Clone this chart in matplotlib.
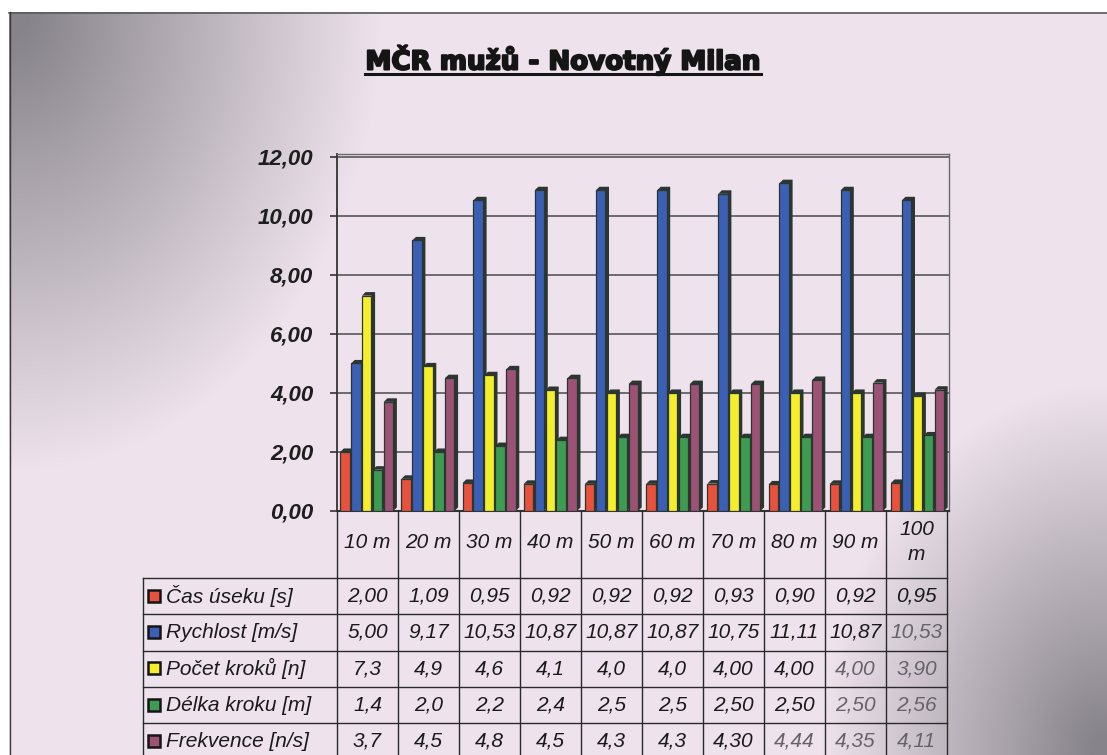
import numpy as np
import matplotlib
matplotlib.use("Agg")
import matplotlib.pyplot as plt
from matplotlib.ticker import FuncFormatter
from matplotlib import patheffects as pe

# ---- data ---------------------------------------------------------------
title = "MČR mužů - Novotný Milan"
categories = ["10 m", "20 m", "30 m", "40 m", "50 m", "60 m", "70 m", "80 m", "90 m", "100\nm"]

series_names = ["Čas úseku [s]", "Rychlost [m/s]", "Počet kroků [n]",
                "Délka kroku [m]", "Frekvence [n/s]"]

cas_useku = ["2,00", "1,09", "0,95", "0,92", "0,92", "0,92", "0,93", "0,90", "0,92", "0,95"]
rychlost = ["5,00", "9,17", "10,53", "10,87", "10,87", "10,87", "10,75", "11,11", "10,87", "10,53"]
pocet_kroku = ["7,3", "4,9", "4,6", "4,1", "4,0", "4,0", "4,00", "4,00", "4,00", "3,90"]
delka_kroku = ["1,4", "2,0", "2,2", "2,4", "2,5", "2,5", "2,50", "2,50", "2,50", "2,56"]
frekvence = ["3,7", "4,5", "4,8", "4,5", "4,3", "4,3", "4,30", "4,44", "4,35", "4,11"]

y_ticks = [0, 2, 4, 6, 8, 10, 12]

rows = [cas_useku, rychlost, pocet_kroku, delka_kroku, frekvence]
values = [[float(s.replace(",", ".")) for s in r] for r in rows]

# ---- style --------------------------------------------------------------
colors = ["#e8513c", "#3b5fb4", "#f4ee2c", "#3d9c52", "#9b5274"]
side_col = "#2b3631"
W, H = 1107, 755
fig = plt.figure(figsize=(W / 100, H / 100), dpi=100)
fig.patch.set_facecolor("white")

# page background: light lilac paper shading to grey in two corners
bg = fig.add_axes([0, 0, 1, 1], zorder=0)
bg.set_xlim(0, W)
bg.set_ylim(H, 0)
bg.axis("off")
gx, gy = np.meshgrid(np.linspace(0, 1, 400), np.linspace(0, 1, 300))
k_tl = np.clip(1 - np.sqrt((gx / 0.34) ** 2 + (gy / 0.62) ** 2), 0, 1)
k_br = np.clip(1 - np.sqrt(((1 - gx) / 0.26) ** 2 + ((1 - gy) / 0.50) ** 2), 0, 1)
k = np.clip(np.maximum(k_tl, k_br) * 1.05, 0, 1)
light = np.array([0.935, 0.890, 0.930])
dark = np.array([0.53, 0.515, 0.545])
img = light[None, None, :] * (1 - k[..., None]) + dark[None, None, :] * k[..., None]
bg.imshow(img, extent=(9, W, H, 12), aspect="auto", interpolation="bilinear")
bg.plot([9, W], [12.5, 12.5], color="#5a5a5a", lw=1.2)
bg.plot([9.5, 9.5], [12, H], color="#3a3a3a", lw=1.0)

# title with underline
t = bg.text(563, 60, title, ha="center", va="center", fontsize=18.8,
            fontweight="bold", family="DejaVu Sans", color="#151515",
            path_effects=[pe.withStroke(linewidth=1.5, foreground="#151515")])
fig.canvas.draw()
bb = t.get_window_extent().transformed(bg.transData.inverted())
bg.plot([bb.x0, bb.x1], [73.5, 73.5], color="#151515", lw=2.2)

# ---- bar chart ----------------------------------------------------------
L, R, T, B = 337, 949, 154, 511
ax = fig.add_axes([L / W, 1 - B / H, (R - L) / W, (B - T) / H], zorder=2)
ax.patch.set_alpha(0)
ax.set_xlim(-0.5, len(categories) - 0.5)
ax.set_ylim(0, 12.1)

pitch, bw = 0.178, 0.155
dx, dy = 0.06, 0.12
xs = np.arange(len(categories))
for j, (vals, c) in enumerate(zip(values, colors)):
    xpos = xs + (j - 2) * pitch - 0.015
    for x, h in zip(xpos, vals):
        xl, xr = x - bw / 2, x + bw / 2
        ax.fill([xr, xr + dx, xr + dx, xl + dx, xl, xr],
                [0, dy, h + dy, h + dy, h, h],
                color=side_col, zorder=3 + j, lw=0)
    ax.bar(xpos, vals, bw, color=c, edgecolor=side_col, lw=0.9, zorder=3 + j)

ax.set_yticks(y_ticks)
ax.yaxis.set_major_formatter(FuncFormatter(lambda v, p: f"{v:.2f}".replace(".", ",")))
ax.tick_params(axis="y", length=5, width=1.2, color="#333333", pad=12)
for lab in ax.get_yticklabels():
    lab.set_fontfamily("Liberation Sans")
    lab.set_fontweight("bold")
    lab.set_fontstyle("italic")
    lab.set_fontsize(16)
    lab.set_color("#1e1e1e")
ax.set_xticks([])
ax.grid(axis="y", color="#4a4a4a", lw=1.1, zorder=1)
ax.set_axisbelow(True)
ax.spines["left"].set_color("#333333")
ax.spines["left"].set_linewidth(1.3)
ax.spines["bottom"].set_color("#333333")
ax.spines["bottom"].set_linewidth(1.5)
for s in ("top", "right"):
    ax.spines[s].set_color("#6a6a6a")
    ax.spines[s].set_linewidth(1.0)

# ---- data table ---------------------------------------------------------
tb = fig.add_axes([0, 0, 1, 1], zorder=3)
tb.set_xlim(0, W)
tb.set_ylim(H, 0)
tb.axis("off")

col_w = (R - L - 2) / len(categories)
col_edges = [L + i * col_w for i in range(len(categories) + 1)]
row_top = 578
row_h = 36.3
row_edges = [row_top + i * row_h for i in range(len(rows) + 1)]
line_kw = dict(color="#2a2a2a", lw=1.0)
tfont = dict(family="Liberation Sans", style="italic", fontsize=15, color="#1a1a1a")

# header cells with the category names
for xe in col_edges:
    tb.plot([xe, xe], [B, H], **line_kw)
for i, cat in enumerate(categories):
    xc = (col_edges[i] + col_edges[i + 1]) / 2
    tb.text(xc, 542, cat, ha="center", va="center", linespacing=1.4, **tfont)

# body rows with the legend keys
tb.plot([143, 143], [row_top, H], **line_kw)
for ye in row_edges[:-1]:
    tb.plot([143, col_edges[-1]], [ye, ye], **line_kw)

faded = {(1, 9), (2, 8), (2, 9), (3, 8), (3, 9), (4, 7), (4, 8), (4, 9)}
for r, (name, row, c) in enumerate(zip(series_names, rows, colors)):
    yc = row_edges[r] + row_h / 2
    tb.add_patch(plt.Rectangle((148, yc - 6.5), 12, 12, facecolor=c,
                               edgecolor="#151515", lw=1.8))
    tb.text(166, yc, name, ha="left", va="center", **tfont)
    for i, s in enumerate(row):
        xc = (col_edges[i] + col_edges[i + 1]) / 2
        kw = dict(tfont)
        if (r, i) in faded:
            kw["color"] = "#66626c"
        tb.text(xc, yc, s, ha="center", va="center", **kw)

fig.savefig("out.png", dpi=100)
